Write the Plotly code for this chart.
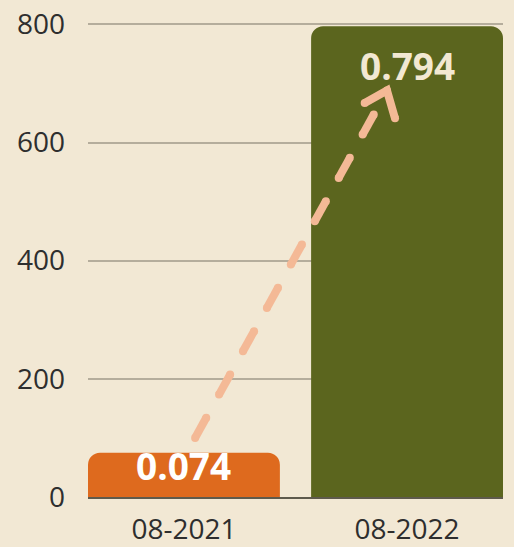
import math
import plotly.graph_objects as go

categories = ["08-2021", "08-2022"]
values = [75, 797]
value_labels = ["0.074", "0.794"]
bar_colors = ["#DE6A1E", "#5B651E"]
label_colors = ["#FFFFFF", "#F2E8D2"]
label_shift = [-13, -39]          # px below bar top
y_ticks = [0, 200, 400, 600, 800]

BG = "#F2E8D4"
ARROW = "#F4B996"

W, H = 514, 547
ML, MR, MT, MB = 88, 11, 22, 50
XR = [-0.43, 1.43]
YR = [0, 804]
PX_X = (W - ML - MR) / (XR[1] - XR[0])
PX_Y = (H - MT - MB) / (YR[1] - YR[0])

fig = go.Figure()
fig.add_trace(go.Bar(
    x=[0, 1], y=values, width=0.86,
    marker=dict(color=bar_colors, line=dict(width=0)),
    hoverinfo="skip", showlegend=False,
))

# dashed arrow (decoration) from first bar up to second bar, round caps
arrow_start = (0.05, 100)
arrow_tip = (0.91, 688)
sx, sy = arrow_start[0] * PX_X, arrow_start[1] * PX_Y
ex, ey = arrow_tip[0] * PX_X, arrow_tip[1] * PX_Y
L = math.hypot(ex - sx, ey - sy)
ux, uy = (ex - sx) / L, (ey - sy) / L
period, dash = 49.5, 23.0
d = 0.0
while d < L - 4:
    d2 = min(d + dash, L - 4)
    xs = [(sx + ux * d) / PX_X, (sx + ux * d2) / PX_X]
    ys = [(sy + uy * d) / PX_Y, (sy + uy * d2) / PX_Y]
    fig.add_trace(go.Scatter(
        x=xs, y=ys, mode="lines+markers",
        line=dict(color=ARROW, width=8),
        marker=dict(color=ARROW, size=8, line=dict(width=0)),
        hoverinfo="skip", showlegend=False,
    ))
    d += period

head_x = [0.81, arrow_tip[0], 0.946]
head_y = [667, arrow_tip[1], 641]
fig.add_trace(go.Scatter(
    x=head_x, y=head_y, mode="lines+markers",
    line=dict(color=ARROW, width=8),
    marker=dict(color=ARROW, size=8, line=dict(width=0)),
    hoverinfo="skip", showlegend=False,
))

for i, (v, t) in enumerate(zip(values, value_labels)):
    fig.add_annotation(
        x=i, y=v, text=f"<b>{t}</b>", showarrow=False,
        yanchor="middle", yshift=label_shift[i],
        font=dict(family="Open Sans", size=37, color=label_colors[i]),
    )

fig.update_layout(
    width=W, height=H,
    margin=dict(l=ML, r=MR, t=MT, b=MB, autoexpand=False),
    paper_bgcolor=BG, plot_bgcolor=BG,
    barcornerradius=12,
    font=dict(family="Open Sans", color="#2E2E2E", size=28),
    xaxis=dict(
        range=XR, tickmode="array", tickvals=[0, 1],
        ticktext=categories, showgrid=False, zeroline=False,
        showline=True, linecolor="#5E5A4C", linewidth=2,
        ticks="", ticklabelstandoff=6, automargin=False,
        tickfont=dict(size=28, color="#2E2E2E"),
        fixedrange=True,
    ),
    yaxis=dict(
        range=YR, tickmode="array", tickvals=y_ticks,
        showgrid=True, gridcolor="#B5AD9C", gridwidth=1.5,
        zeroline=False, ticks="", ticklabelstandoff=22, automargin=False,
        tickfont=dict(size=28, color="#2E2E2E"),
        fixedrange=True,
    ),
)

fig.write_html(
    "out.html",
    config={"displayModeBar": False},
    post_script="document.body.style.margin='0';document.body.style.overflow='hidden';",
)
